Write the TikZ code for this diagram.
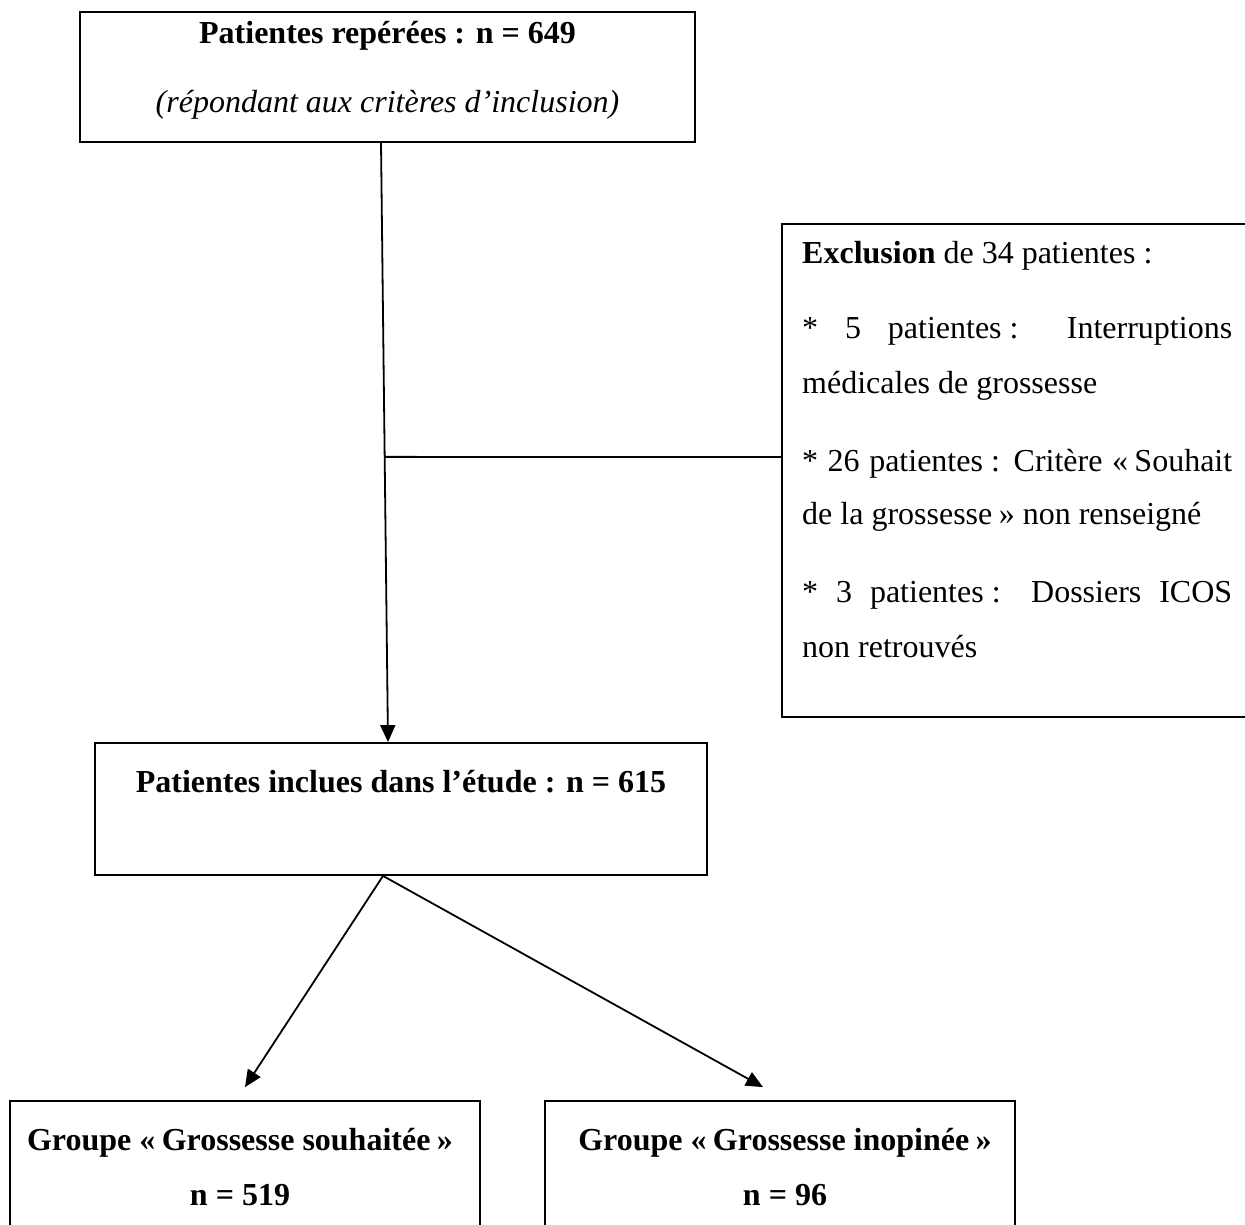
\documentclass[tikz,border=0pt]{standalone}
\usepackage{fontspec}
\setmainfont{Liberation Serif}
\usetikzlibrary{arrows.meta,calc}
\begin{document}
\begin{tikzpicture}[x=1pt,y=-1pt,
  font=\fontsize{32pt}{38pt}\selectfont,
  box/.style={draw=black,line width=1.8pt,minimum width=#1,inner sep=0pt},
  txt/.style={inner sep=0pt,anchor=base},
  ltxt/.style={inner sep=0pt,anchor=base west},
  conn/.style={draw=black,line width=1.8pt},
  arr/.style={conn,-{Triangle[length=17pt,width=15pt]}}]
\clip (0,0) rectangle (1245,1224);
\fill[white] (0,0) rectangle (1245,1224);

% boxes
\node[box=615pt,minimum height=130pt] (b1) at (387.5,77) {};
\node[box=478pt,minimum height=493pt] (excl) at (1021,470.5) {};
\node[box=612pt,minimum height=132pt] (b2) at (401,809) {};
\node[box=470pt,minimum height=139pt] (b3) at (245,1170.5) {};
\node[box=470pt,minimum height=139pt] (b4) at (780,1170.5) {};

% texts
\node[txt] (t1a) at (387.5,43) {\textbf{Patientes repérées : n = 649}};
\node[txt] (t1b) at (387.5,112) {\textit{(répondant aux critères d’inclusion)}};

\node[ltxt] (e1) at (802,263) {\textbf{Exclusion} de 34 patientes :};
\node[ltxt] (e2) at (802,338) {\makebox[430pt][s]{* 5 patientes\kern0.25em: Interruptions}};
\node[ltxt] (e3) at (802,393) {médicales de grossesse};
\node[ltxt] (e4) at (802,471) {\makebox[430pt][s]{* 26 patientes\kern0.25em: Critère «\kern0.2em Souhait}};
\node[ltxt] (e5) at (802,524) {de la grossesse\kern0.2em» non renseigné};
\node[ltxt] (e6) at (802,602) {\makebox[430pt][s]{* 3 patientes\kern0.25em: Dossiers ICOS}};
\node[ltxt] (e7) at (802,657) {non retrouvés};

\node[txt] (t2) at (401,792) {\textbf{Patientes inclues dans l’étude : n = 615}};

\node[txt] (t3a) at (240,1150) {\textbf{Groupe «\kern0.2em Grossesse souhaitée\kern0.2em»}};
\node[txt] (t3b) at (240,1205) {\textbf{n = 519}};
\node[txt] (t4a) at (785,1150) {\textbf{Groupe «\kern0.2em Grossesse inopinée\kern0.2em»}};
\node[txt] (t4b) at (785,1205) {\textbf{n = 96}};

% connectors
\coordinate (vtop) at ([xshift=-6.5pt]b1.south);
\coordinate (vbot) at ([xshift=-13pt]b2.north);
\draw[arr] (vtop) -- (vbot);
\coordinate (junc) at ($(vtop)!0.524!(vbot)$);
\draw[conn] (junc) -- ([yshift=13.5pt]excl.west);

\coordinate (split) at ([xshift=-18pt]b2.south);
\draw[arr] (split) -- ([yshift=13pt]b3.north);
\draw[arr] (split) -- ([xshift=-17pt,yshift=13pt]b4.north);
\end{tikzpicture}
\end{document}
